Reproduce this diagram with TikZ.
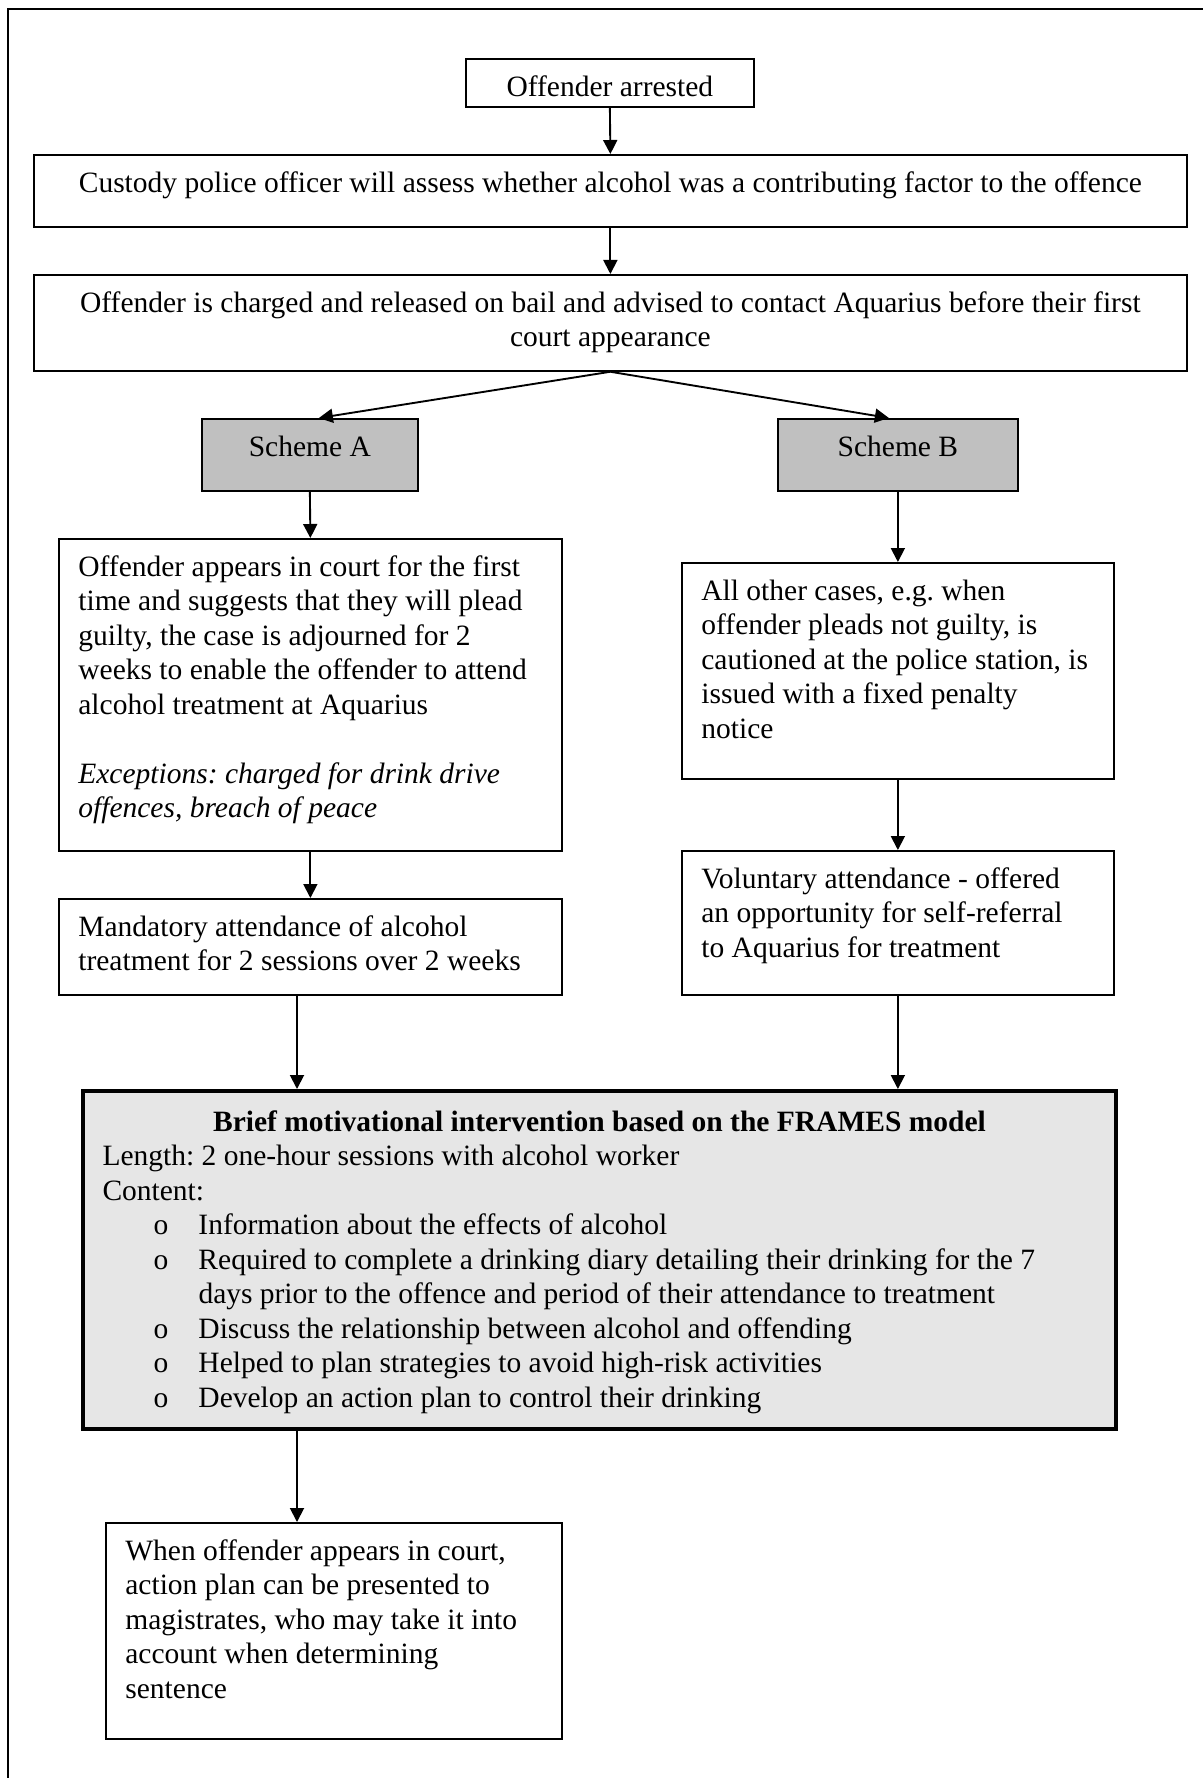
\documentclass[tikz,border=0pt]{standalone}
\usepackage{fontspec}
\setmainfont{Liberation Serif}
\usetikzlibrary{arrows.meta}
\frenchspacing
\newdimen\pxu \pxu=0.4pt
% #1 width px, #2 height px, #3 top pad, #4 alignment, #5 text
\newcommand\boxtxt[5]{\parbox[c][#2\pxu][t]{\dimexpr #1\pxu-15.6pt\relax}{\frenchspacing#4\vspace*{#3}\strut #5}}
\definecolor{schemegray}{HTML}{C0C0C0}
\definecolor{framesgray}{HTML}{E6E6E6}
\tikzset{
  box/.style={draw, line width=0.7pt, inner xsep=7.8pt, inner ysep=0pt, anchor=north west,
              font=\fontsize{11.8}{13.8}\selectfont},
  scheme/.style={box, fill=schemegray},
  frames/.style={box, line width=1.6pt, fill=framesgray},
  arr/.style={draw, line width=0.75pt, -{Triangle[length=5.6pt,width=5.6pt]}},
}
\begin{document}
\begin{tikzpicture}[x=0.4pt, y=-0.4pt]
\useasboundingbox (0,0) rectangle (1203,1778);
\fill[white] (0,0) rectangle (1203,1778);
\draw[line width=0.8pt] (1203,9) -- (8,9) -- (8,1778);

\node[box] (b1) at (465,58) {\boxtxt{288}{48}{5.2pt}{\centering}{Offender arrested}};
\node[box] (b2) at (33,154) {\boxtxt{1153}{72}{5.2pt}{\centering}{Custody police officer will assess whether alcohol was a contributing factor to the offence}};
\node[box] (b3) at (33,274) {\boxtxt{1153}{96}{5.2pt}{\centering}{Offender is charged and released on bail and advised to contact Aquarius before their first\\ court appearance}};
\node[scheme] (sA) at (201,418) {\boxtxt{216}{72}{5.2pt}{\centering}{Scheme A}};
\node[scheme] (sB) at (777,418) {\boxtxt{240}{72}{5.2pt}{\centering}{Scheme B}};
\node[box] (b4) at (58,538) {\boxtxt{503}{312}{5.2pt}{\raggedright}{Offender appears in court for the first\\
time and suggests that they will plead\\
guilty, the case is adjourned for 2\\
weeks to enable the offender to attend\\
alcohol treatment at Aquarius\\[\baselineskip]
\itshape Exceptions: charged for drink drive\\
offences, breach of peace}};
\node[box] (b5) at (681,562) {\boxtxt{432}{216}{5.2pt}{\raggedright}{All other cases, e.g. when\\
offender pleads not guilty, is\\
cautioned at the police station, is\\
issued with a fixed penalty\\
notice}};
\node[box] (b6) at (58,898) {\boxtxt{503}{96}{5.2pt}{\raggedright}{Mandatory attendance of alcohol\\
treatment for 2 sessions over 2 weeks}};
\node[box] (b7) at (681,850) {\boxtxt{432}{144}{5.2pt}{\raggedright}{Voluntary attendance - offered\\
an opportunity for self-referral\\
to Aquarius for treatment}};
\node[frames] (fr) at (81,1089) {\boxtxt{1033}{338}{6.5pt}{\raggedright}{{\centering\bfseries Brief motivational intervention based on the FRAMES model\par}
Length: 2 one-hour sessions with alcohol worker\\
Content:\\
\hspace*{20.4pt}\makebox[18pt][l]{o}Information about the effects of alcohol\\
\hspace*{20.4pt}\makebox[18pt][l]{o}Required to complete a drinking diary detailing their drinking for the 7\\
\hspace*{38.4pt}days prior to the offence and period of their attendance to treatment\\
\hspace*{20.4pt}\makebox[18pt][l]{o}Discuss the relationship between alcohol and offending\\
\hspace*{20.4pt}\makebox[18pt][l]{o}Helped to plan strategies to avoid high-risk activities\\
\hspace*{20.4pt}\makebox[18pt][l]{o}Develop an action plan to control their drinking}};
\node[box] (b8) at (105,1522) {\boxtxt{456}{216}{5.2pt}{\raggedright}{When offender appears in court,\\
action plan can be presented to\\
magistrates, who may take it into\\
account when determining\\
sentence}};

\coordinate (ax) at (297,0);
\draw[arr] (b1.south) -- (b2.north);
\draw[arr] (b2.south) -- (b3.north);
\draw[arr] (b3.south) -- ([xshift=3.6pt]sA.north);
\draw[arr] (b3.south) -- ([xshift=-3.6pt]sB.north);
\draw[arr] (sA.south) -- (b4.north);
\draw[arr] (sB.south) -- (b5.north);
\draw[arr] (b4.south) -- (b6.north);
\draw[arr] (b5.south) -- (b7.north);
\draw[arr] (b6.south -| ax) -- (fr.north -| ax);
\draw[arr] (b7.south) -- (fr.north -| b7.south);
\draw[arr] (fr.south -| ax) -- (b8.north -| ax);
\end{tikzpicture}
\end{document}
